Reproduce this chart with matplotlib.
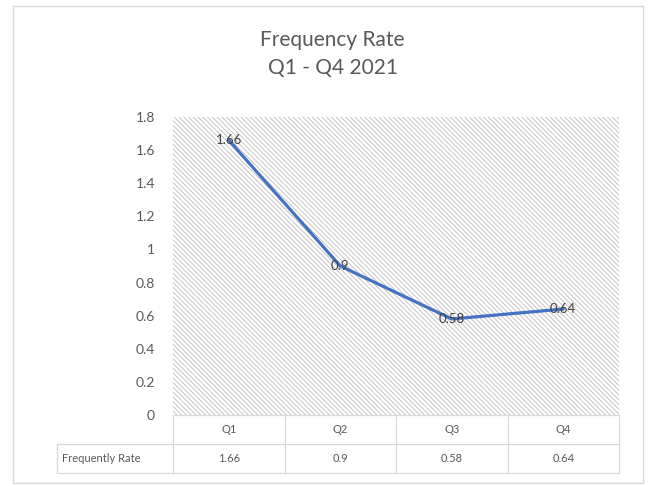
import matplotlib
matplotlib.use('Agg')
import matplotlib.pyplot as plt
from matplotlib.patches import Rectangle

# ---------------- data ----------------
quarters = ['Q1', 'Q2', 'Q3', 'Q4']
freq_rate = [1.66, 0.9, 0.58, 0.64]
row_label = 'Frequently Rate'
y_ticks = [0, 0.2, 0.4, 0.6, 0.8, 1.0, 1.2, 1.4, 1.6, 1.8]

# ---------------- style ----------------
plt.rcParams['font.family'] = ['Lato', 'DejaVu Sans']
plt.rcParams['hatch.linewidth'] = 0.6
txt_grey = '#595959'
line_blue = '#4472C4'
border_grey = '#d9d9d9'

fig = plt.figure(figsize=(6.51, 4.86), dpi=100)
fig.patch.set_facecolor('white')

# outer chart border
fig.patches.append(Rectangle((13 / 651, 1 - 483 / 486), 630 / 651, 477 / 486,
                             transform=fig.transFigure, fill=False,
                             edgecolor=border_grey, linewidth=1.0))

# titles
fig.text(0.511, 1 - 40 / 486, 'Frequency Rate', ha='center', va='center',
         fontsize=15, color=txt_grey)
fig.text(0.511, 1 - 68 / 486, 'Q1 - Q4 2021', ha='center', va='center',
         fontsize=15, color=txt_grey)

ax = fig.add_axes([173 / 651, 1 - 415 / 486, 446 / 651, 298 / 486])
ax.set_facecolor('white')

# hatched plot area
ax.add_patch(Rectangle((0, 0), 1, 1, transform=ax.transAxes, facecolor='none',
                       edgecolor='#bdbdbd', linewidth=0, hatch='\\' * 7, zorder=0))

x = list(range(len(quarters)))
ax.plot(x, freq_rate, color=line_blue, linewidth=2.3, zorder=3,
        solid_capstyle='round', solid_joinstyle='round')

for xi, v in zip(x, freq_rate):
    ax.text(xi, v, f'{v:g}', ha='center', va='center', fontsize=9.5,
            color='#404040', zorder=4)

ax.set_xlim(-0.5, len(quarters) - 0.5)
ax.set_ylim(0, 1.8)
ax.set_yticks(y_ticks)
ax.set_yticklabels([f'{t:g}' for t in y_ticks])
ax.tick_params(axis='y', length=0, pad=13, labelsize=10, labelcolor=txt_grey)
ax.set_xticks([])
for s in ax.spines.values():
    s.set_visible(False)

# ---------------- data table under the plot (axes fraction coords) ----------------
label_w = 116 / 446
row_h = 29 / 298
n = len(quarters)
col_w = 1 / n
tr = ax.transAxes
kw = dict(color=border_grey, linewidth=0.9, transform=tr, clip_on=False, zorder=5)

# horizontal rules
ax.plot([0, 1], [0, 0], **kw)
ax.plot([-label_w, 1], [-row_h, -row_h], **kw)
ax.plot([-label_w, 1], [-2 * row_h, -2 * row_h], **kw)
# vertical rules
for i in range(n + 1):
    ax.plot([i * col_w, i * col_w], [0, -2 * row_h], **kw)
ax.plot([-label_w, -label_w], [-row_h, -2 * row_h], **kw)

for i, (q, v) in enumerate(zip(quarters, freq_rate)):
    xc = (i + 0.5) * col_w
    ax.text(xc, -0.5 * row_h, q, transform=tr, ha='center', va='center',
            fontsize=8, color=txt_grey)
    ax.text(xc, -1.5 * row_h, f'{v:g}', transform=tr, ha='center', va='center',
            fontsize=8, color=txt_grey)
ax.text(-label_w + 5 / 446, -1.5 * row_h, row_label, transform=tr,
        ha='left', va='center', fontsize=8, color=txt_grey)

fig.savefig('out.png', dpi=100)
